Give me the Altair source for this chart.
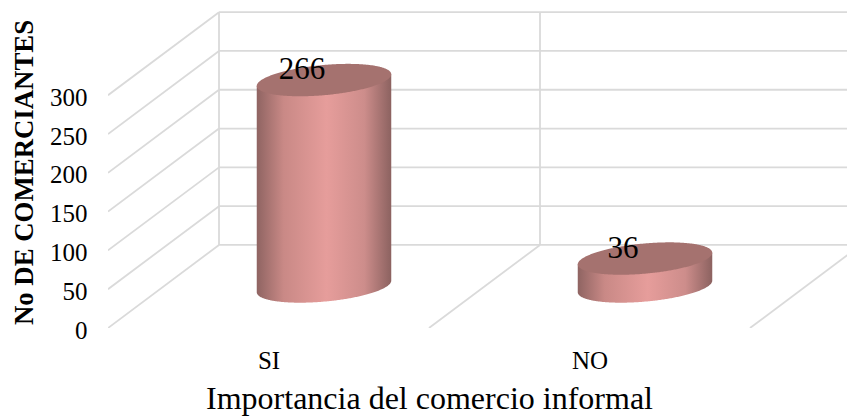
import altair as alt
import numpy as np
import pandas as pd

# Survey counts
categories = ["SI", "NO"]
merchants = [266, 36]
axis_ticks = [0, 50, 100, 150, 200, 250, 300]

SERIF = "Liberation Serif"
GRID = "#dadada"

# Oblique projection: how far the back wall sits from the front plane,
# in x-scale and y-scale units.
DEPTH_X = 0.3458
DEPTH_Y = 107.0

# Cylinder cross-section in scale units.
RADIUS_X = 0.2095
TILT_Y = 7.5
ROUND_Y = 19.5

x_scale = alt.Scale(domain=[0, 739 / 321], nice=False, zero=False)
y_scale = alt.Scale(domain=[0, 328 / 0.776], nice=False, zero=False)

slots = np.arange(3)

# Wall and floor grid
side_lines = pd.DataFrame({
    "x": [0.0] * len(axis_ticks),
    "y": axis_ticks,
    "x2": [DEPTH_X] * len(axis_ticks),
    "y2": [t + DEPTH_Y for t in axis_ticks],
})
floor_lines = pd.DataFrame({
    "x": slots[1:].astype(float),
    "y": 0.0,
    "x2": slots[1:] + DEPTH_X,
    "y2": DEPTH_Y,
})
back_horizontal = pd.DataFrame({
    "x": DEPTH_X,
    "x2": 3.0,
    "y": [t + DEPTH_Y for t in axis_ticks],
    "y2": [t + DEPTH_Y for t in axis_ticks],
})
back_vertical = pd.DataFrame({
    "x": slots + DEPTH_X,
    "x2": slots + DEPTH_X,
    "y": DEPTH_Y,
    "y2": max(axis_ticks) + DEPTH_Y,
})
grid_frame = pd.concat([side_lines, floor_lines, back_horizontal, back_vertical])

# Outline of each cylinder, derived from its count
angle = np.linspace(0, np.pi, 181)
across = -np.cos(angle)
body_rows, lid_rows = [], []
for i, (cat, value) in enumerate(zip(categories, merchants)):
    cx = i + 0.5 + DEPTH_X / 2
    base = DEPTH_Y / 2
    slope = TILT_Y * across
    bow = ROUND_Y * np.sin(angle)
    body_rows.append(pd.DataFrame({
        "category": cat,
        "x": cx + RADIUS_X * across,
        "y": base + slope - bow,
        "y2": base + value + slope,
    }))
    lid_rows.append(pd.DataFrame({
        "category": cat,
        "x": cx + RADIUS_X * across,
        "y": base + value + slope - bow,
        "y2": base + value + slope + bow,
    }))
body_frame = pd.concat(body_rows)
lid_frame = pd.concat(lid_rows)

label_frame = pd.DataFrame({
    "x": [i + 0.604 for i in range(len(categories))],
    "y": [v + 66 for v in merchants],
    "text": [str(v) for v in merchants],
})

label_expr = "datum.value < 1 ? '{}' : '{}'".format(*categories)

# The same axis definitions are shared by every layer
x_axis = alt.Axis(
    values=[0.5, 1.5], labelExpr=label_expr, grid=False, domain=False, ticks=False,
    labelFont=SERIF, labelFontSize=25, labelColor="#000000", labelPadding=20,
    title="Importancia del comercio informal", titleFont=SERIF, titleFontSize=32,
    titleFontWeight="normal", titleColor="#000000", titleX=321, titleY=80,
    titleBaseline="alphabetic",
)
y_axis = alt.Axis(
    values=axis_ticks, grid=False, domain=False, ticks=False,
    labelFont=SERIF, labelFontSize=25, labelColor="#000000", labelPadding=21,
    labelOffset=2,
    title="No DE COMERCIANTES", titleFont=SERIF, titleFontSize=26.8,
    titleFontWeight="bold", titleColor="#000000", titleX=-76, titleY=172,
    titleBaseline="alphabetic",
)
x_enc = alt.X("x:Q", scale=x_scale, axis=x_axis)
y_enc = alt.Y("y:Q", scale=y_scale, axis=y_axis)

grid = alt.Chart(grid_frame).mark_rule(color=GRID, strokeWidth=1.8, clip=True).encode(
    x=x_enc, x2="x2:Q", y=y_enc, y2="y2:Q",
)

side_shade = alt.Gradient(
    gradient="linear", x1=0, x2=1, y1=0, y2=0,
    stops=[
        alt.GradientStop(color="#8f6462", offset=0),
        alt.GradientStop(color="#c98986", offset=0.2),
        alt.GradientStop(color="#e69d9b", offset=0.52),
        alt.GradientStop(color="#cd8d8b", offset=0.8),
        alt.GradientStop(color="#8c6260", offset=1),
    ],
)

bodies = alt.Chart(body_frame).mark_area(fill=side_shade, clip=True).encode(
    x=x_enc, y=y_enc, y2="y2:Q", detail="category:N",
)

lids = alt.Chart(lid_frame).mark_area(fill="#a5726f", clip=True).encode(
    x=x_enc, y=y_enc, y2="y2:Q", detail="category:N",
)

labels = alt.Chart(label_frame).mark_text(
    font=SERIF, fontSize=31, color="#000000", baseline="middle", align="center"
).encode(
    x=x_enc, y=y_enc, text="text:N",
)

chart = alt.layer(grid, bodies, lids, labels).properties(
    width=739,
    height=328,
    padding={"left": 108, "top": 0, "right": 0, "bottom": 88},
    autosize=alt.AutoSizeParams(type="none"),
    background="#ffffff",
).configure_view(stroke=None)

chart.save("out.html", embed_options={"renderer": "svg", "actions": False})
